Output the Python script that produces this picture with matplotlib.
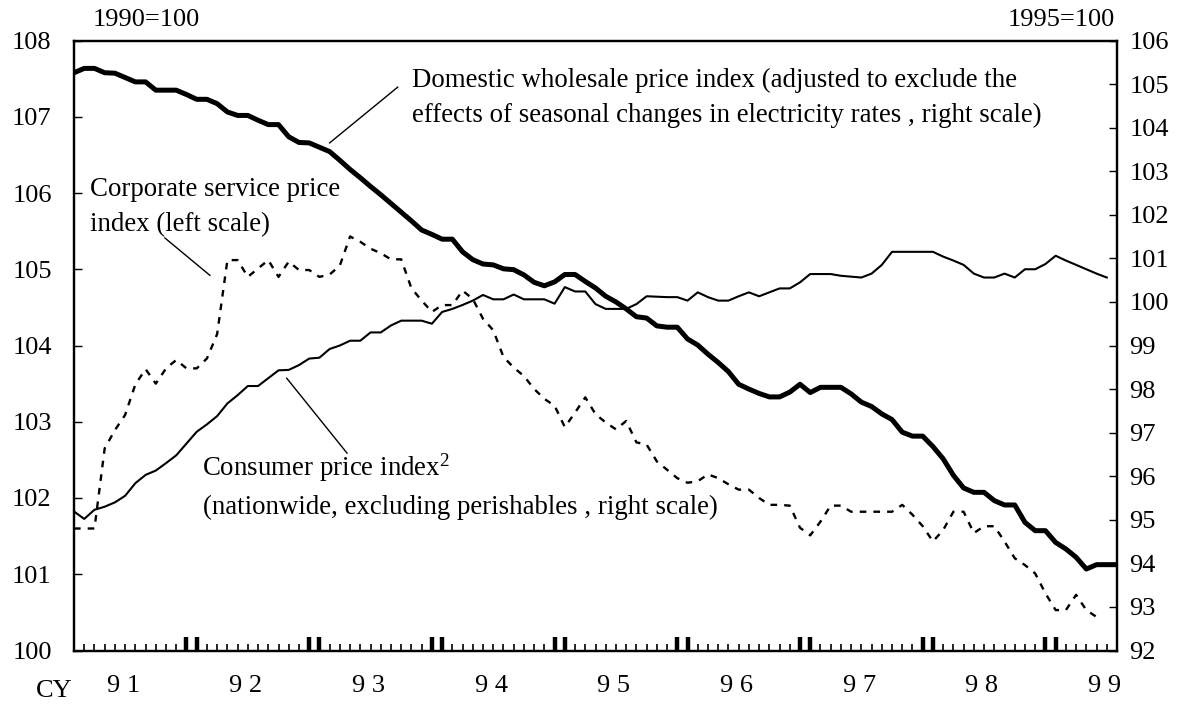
import numpy as np
import matplotlib
matplotlib.use("Agg")
import matplotlib.pyplot as plt

plt.rcParams['font.family'] = ['Liberation Serif', 'DejaVu Serif']
plt.rcParams['mathtext.fontset'] = 'custom'
plt.rcParams['mathtext.rm'] = 'Liberation Serif'
plt.rcParams['mathtext.it'] = 'Liberation Serif:italic'

# monthly data, Jan 1991 onward (index 0 = 91/1)
wholesale = [  # right scale, 1995=100
    105.26, 105.36, 105.36, 105.26, 105.25, 105.15, 105.05, 105.05, 104.86, 104.86,
    104.86, 104.76, 104.65, 104.65, 104.55, 104.36, 104.28, 104.28, 104.17, 104.07,
    104.07, 103.79, 103.66, 103.65, 103.55, 103.45, 103.25, 103.04, 102.85, 102.65,
    102.46, 102.26, 102.06, 101.86, 101.65, 101.55, 101.44, 101.44, 101.15, 100.97,
    100.87, 100.85, 100.76, 100.74, 100.62, 100.45, 100.37, 100.46, 100.63, 100.63,
    100.47, 100.32, 100.13, 100.00, 99.84, 99.66, 99.63, 99.45, 99.42, 99.42,
    99.15, 99.01, 98.80, 98.61, 98.40, 98.11, 98.00, 97.90, 97.82, 97.82,
    97.93, 98.11, 97.92, 98.04, 98.04, 98.04, 97.89, 97.70, 97.60, 97.43,
    97.30, 97.01, 96.92, 96.92, 96.68, 96.40, 96.02, 95.73, 95.63, 95.63,
    95.44, 95.34, 95.34, 94.94, 94.75, 94.75, 94.48, 94.33, 94.14, 93.87,
    93.97, 93.97, 93.97,
]
cpi = [  # right scale, 1995=100
    95.19, 95.02, 95.23, 95.30, 95.40, 95.55, 95.84, 96.03, 96.13, 96.30,
    96.48, 96.75, 97.02, 97.19, 97.38, 97.67, 97.86, 98.07, 98.07, 98.25,
    98.43, 98.44, 98.55, 98.70, 98.72, 98.92, 99.00, 99.11, 99.11, 99.30,
    99.30, 99.46, 99.57, 99.57, 99.57, 99.50, 99.77, 99.84, 99.93, 100.03,
    100.16, 100.06, 100.06, 100.17, 100.06, 100.06, 100.06, 99.96, 100.34, 100.24,
    100.24, 99.95, 99.84, 99.84, 99.84, 99.95, 100.13, 100.12, 100.11, 100.11,
    100.03, 100.22, 100.11, 100.03, 100.03, 100.13, 100.22, 100.13, 100.22, 100.31,
    100.31, 100.45, 100.64, 100.64, 100.64, 100.60, 100.58, 100.56, 100.65, 100.85,
    101.15, 101.15, 101.15, 101.15, 101.15, 101.04, 100.95, 100.85, 100.65, 100.56,
    100.56, 100.65, 100.56, 100.75, 100.75, 100.87, 101.06, 100.95, 100.85, 100.75,
    100.65, 100.56, np.nan,
]
cspi = [  # left scale, 1990=100
    101.60, 101.60, 101.60, 102.65, 102.89, 103.09, 103.49, 103.69, 103.50, 103.70,
    103.81, 103.70, 103.70, 103.83, 104.15, 105.12, 105.12, 104.90, 105.01, 105.12,
    104.90, 105.10, 104.99, 104.99, 104.90, 104.93, 105.05, 105.43, 105.36, 105.27,
    105.21, 105.13, 105.13, 104.75, 104.59, 104.44, 104.53, 104.53, 104.72, 104.61,
    104.35, 104.20, 103.85, 103.71, 103.60, 103.43, 103.30, 103.21, 102.93, 103.12,
    103.32, 103.10, 102.99, 102.90, 103.01, 102.73, 102.70, 102.48, 102.37, 102.26,
    102.20, 102.22, 102.31, 102.26, 102.18, 102.11, 102.11, 102.00, 101.91, 101.91,
    101.90, 101.61, 101.51, 101.69, 101.90, 101.90, 101.82, 101.82, 101.82, 101.82,
    101.82, 101.91, 101.78, 101.63, 101.43, 101.58, 101.82, 101.82, 101.54, 101.63,
    101.63, 101.43, 101.21, 101.12, 101.01, 100.75, 100.53, 100.53, 100.73, 100.53,
    100.44, np.nan, np.nan,
]
year_labels = ['9 1', '9 2', '9 3', '9 4', '9 5', '9 6', '9 7', '9 8', '9 9']
left_ticks = list(range(100, 109))
right_ticks = list(range(92, 107))

months = np.arange(len(wholesale))
W, H = 1194, 706
fs = 19        # tick labels
fa = 19.4      # annotations

fig = plt.figure(figsize=(W / 100, H / 100), dpi=100)
ax = fig.add_axes([74 / W, 1 - 650.5 / H, (1117 - 74) / W, (650.5 - 40.5) / H])
ax2 = ax.twinx()

ax.plot(months, cspi, color='black', lw=1.7, dashes=(2.8, 3.0))
ax2.plot(months, wholesale, color='black', lw=3.6, solid_joinstyle='round')
ax2.plot(months, cpi, color='black', lw=1.5)

ax.set_xlim(0, len(months) - 1)
ax.set_ylim(100, 108)
ax2.set_ylim(92, 106)
ax.set_yticks(left_ticks)
ax2.set_yticks(right_ticks)
ax.tick_params(axis='y', direction='in', length=6, width=1, labelsize=fs, pad=16)
ax2.tick_params(axis='y', direction='in', length=6, width=1, labelsize=fs, pad=9)

# month ticks, with a doubled heavy tick at each year end
ax.set_xticks(months, minor=True)
year_marks = [m for k in range(1, 9) for m in (12 * k - 1, 12 * k)]
ax.set_xticks(year_marks)
ax.set_xticklabels([])
ax.tick_params(axis='x', which='minor', direction='in', length=5, width=1.2)
ax.tick_params(axis='x', which='major', direction='in', length=10, width=3.2)
for a in (ax, ax2):
    for s in a.spines.values():
        s.set_linewidth(1.6)

xt = ax.get_xaxis_transform()
for k, lab in enumerate(year_labels):
    ax.text(12 * k + 4.8, -0.058, lab, transform=xt, ha='center', va='center', fontsize=fs)
ax.text(-1.9, -0.066, 'CY', transform=xt, ha='center', va='center', fontsize=fs)

fig.text(93 / W, 1 - 20 / H, '1990=100', ha='left', va='center', fontsize=fs)
fig.text(1115 / W, 1 - 20 / H, '1995=100', ha='right', va='center', fontsize=fs)

# annotations
ax2.text(33.1, 105.09, 'Domestic wholesale price index (adjusted to exclude the',
         ha='left', va='center', fontsize=fa)
ax2.text(33.1, 104.29, 'effects of seasonal changes in electricity rates , right scale)',
         ha='left', va='center', fontsize=fa)
ax2.plot([31.66, 25.0], [104.93, 103.65], color='black', lw=1)

ax.text(1.56, 106.05, 'Corporate service price', ha='left', va='center', fontsize=fa)
ax.text(1.56, 105.59, 'index (left scale)', ha='left', va='center', fontsize=fa)
ax.plot([8.89, 13.29], [105.41, 104.92], color='black', lw=1)

ax2.text(12.5, 96.19, 'Consumer price index$^{2}$', ha='left', va='center', fontsize=fa)
ax2.text(12.6, 95.29, '(nationwide, excluding perishables , right scale)',
         ha='left', va='center', fontsize=fa)
ax2.plot([20.8, 26.7], [98.25, 96.53], color='black', lw=1)

fig.savefig('out.png', dpi=100)
